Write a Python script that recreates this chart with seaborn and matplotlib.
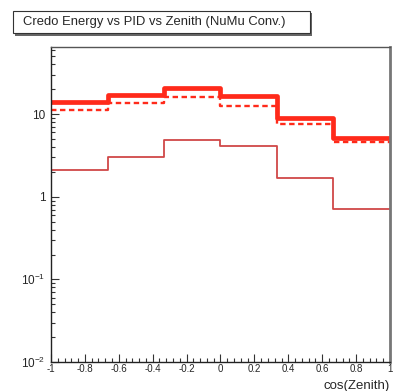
import matplotlib
matplotlib.use("Agg")
import matplotlib.pyplot as plt
import seaborn as sns
import numpy as np
import pandas as pd
from matplotlib.patches import Rectangle
from matplotlib.ticker import MultipleLocator, LogLocator, NullFormatter

# Data
bin_edges = [-1.0, -2/3, -1/3, 0.0, 1/3, 2/3, 1.0]
thick_vals = [14.1, 17.2, 20.8, 16.8, 9.1, 5.2]
dashed_vals = [11.1, 13.7, 16.0, 12.4, 7.5, 4.55]
thin_vals = [2.12, 3.03, 4.82, 4.07, 1.68, 0.71]
x_tick_vals = [-1, -0.8, -0.6, -0.4, -0.2, 0, 0.2, 0.4, 0.6, 0.8, 1]
x_tick_labels = ["-1", "-0.8", "-0.6", "-0.4", "-0.2", "0", "0.2", "0.4", "0.6", "0.8", "1"]
y_tick_vals = [0.01, 0.1, 1, 10]
y_tick_labels = ["$10^{-2}$", "$10^{-1}$", "1", "10"]
title = "Credo Energy vs PID vs Zenith (NuMu Conv.)"
xlabel = "cos(Zenith)"

sns.set_style("white")
plt.rcParams['font.family'] = ['Liberation Sans', 'DejaVu Sans']
plt.rcParams['mathtext.fontset'] = 'custom'
plt.rcParams['mathtext.rm'] = 'Liberation Sans'
plt.rcParams['mathtext.it'] = 'Liberation Sans'

fig = plt.figure(figsize=(3.98, 3.91), dpi=100)
ax = fig.add_axes([51/398, (391-362)/391, (390-51)/398, (362-47)/391])

def steps(vals):
    return pd.DataFrame({"x": bin_edges, "y": list(vals) + [vals[-1]]})

sns.lineplot(data=steps(thin_vals), x="x", y="y", drawstyle="steps-post",
             color="#d04848", lw=1.3, ax=ax)
sns.lineplot(data=steps(dashed_vals), x="x", y="y", drawstyle="steps-post",
             color="#ff2a1a", lw=1.7, ax=ax, linestyle=(0, (2.3, 1.5)))
sns.lineplot(data=steps(thick_vals), x="x", y="y", drawstyle="steps-post",
             color="#ff2a1a", lw=3.4, ax=ax)

ax.set_yscale("log")
ax.set_xlim(-1, 1)
ax.set_ylim(0.01, 65)

ax.set_xticks(x_tick_vals)
ax.set_xticklabels(x_tick_labels, fontsize=7)
ax.xaxis.set_minor_locator(MultipleLocator(0.04))
ax.set_yticks(y_tick_vals)
ax.set_yticklabels(y_tick_labels, fontsize=8.5)
ax.yaxis.set_minor_locator(LogLocator(base=10, subs=np.arange(2, 10)))
ax.yaxis.set_minor_formatter(NullFormatter())

ax.tick_params(axis="x", which="major", pad=1.5)
ax.tick_params(axis="y", which="major", pad=4)
ax.tick_params(axis="both", which="major", direction="in", length=6, width=0.8,
               color="#333333", bottom=True, left=True, top=False, right=False)
ax.tick_params(axis="both", which="minor", direction="in", length=3, width=0.8,
               color="#333333", bottom=True, left=True, top=False, right=False)
ax.set_xlabel("")
ax.set_ylabel("")
for s in ["left", "bottom"]:
    ax.spines[s].set_color("#222222")
    ax.spines[s].set_linewidth(1.0)
ax.spines["top"].set_color("#555555")
ax.spines["top"].set_linewidth(1.0)
ax.spines["right"].set_color("#777777")
ax.spines["right"].set_linewidth(2.0)

fig.text(390/398, 1 - 386/391, xlabel, ha="right", va="center", fontsize=9.5)

# Title box with shadow
shadow = Rectangle((15/398, 1 - 36/391), (310-13)/398, (34-11)/391,
                   transform=fig.transFigure, facecolor="#666666", edgecolor="none", zorder=1)
box = Rectangle((13/398, 1 - 33/391), (310-13)/398, (33-11)/391,
                transform=fig.transFigure, facecolor="white", edgecolor="#333333",
                lw=0.8, zorder=2)
fig.add_artist(shadow)
fig.add_artist(box)
fig.text(23/398, 1 - 22/391, title, ha="left", va="center", fontsize=9.4, zorder=3)

fig.savefig("out.png", dpi=100)
